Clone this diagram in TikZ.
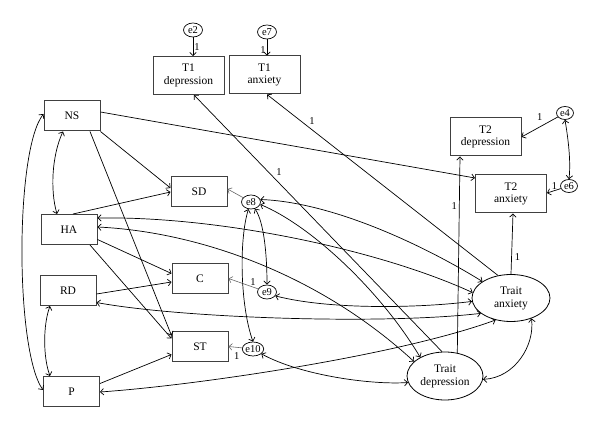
\documentclass[tikz,border=0pt]{standalone}
\usepackage{fontspec}
\setmainfont{Liberation Serif}
\usetikzlibrary{shapes.geometric,arrows.meta}
\begin{document}
\begin{tikzpicture}[x=1pt,y=-1pt,
  >={Straight Barb[length=3.2pt,width=6.5pt]},
  box/.style={draw=black!75, line width=1pt, minimum width=56pt, minimum height=30pt, inner sep=1pt, align=center, font=\fontsize{11.5}{12.5}\selectfont},
  wbox/.style={box, minimum width=71pt, minimum height=38pt},
  err/.style={draw, ellipse, line width=0.7pt, minimum width=19pt, minimum height=14pt, inner sep=0pt, font=\fontsize{10.5}{11}\selectfont},
  lat/.style={draw, ellipse, line width=0.8pt, minimum width=78pt, minimum height=47pt, inner sep=0pt, align=center, font=\fontsize{11.5}{13}\selectfont},
  reg/.style={->, line width=0.7pt},
  cov/.style={<->, line width=0.7pt},
  res/.style={->, line width=0.6pt, draw=black!60},
  lbl/.style={inner sep=0pt, font=\fontsize{10.5}{11}\selectfont, text=black}
]
\useasboundingbox (0,0) rectangle (600,427);

% nodes
\node[err] (e2) at (193,30) {e2};
\node[err] (e7) at (267,32) {e7};
\node[wbox] (T1d) at (188.5,75.5) {T1\\depression};
\node[wbox] (T1a) at (264.5,75) {T1\\anxiety};
\node[box] (NS) at (72,116) {NS};
\node[box] (SD) at (199,192) {SD};
\node[box] (HA) at (69,229.5) {HA};
\node[box] (C) at (200,278.5) {C};
\node[box] (RD) at (68,290.5) {RD};
\node[box] (ST) at (200,346.5) {ST};
\node[box] (P) at (71.5,391.5) {P};
\node[err] (e8) at (251,202) {e8};
\node[err] (e9) at (267,292) {e9};
\node[err] (e10) at (253,349) {e10};
\node[wbox] (T2d) at (485.5,137) {T2\\depression};
\node[wbox] (T2a) at (511,194) {T2\\anxiety};
\node[err, minimum width=17pt, minimum height=13pt] (e4) at (565,113) {e4};
\node[err, minimum width=17pt, minimum height=13pt] (e6) at (569,186) {e6};
\node[lat] (TA) at (511,298) {Trait\\anxiety};
\node[lat, minimum width=76pt, minimum height=48pt] (TD) at (445,376) {Trait\\depression};

% residual paths to T1 / T2
\draw[reg] (e2) -- (e2 |- T1d.north) node[lbl, pos=0.5, xshift=4pt] {1};
\draw[reg] (e7) -- (e7 |- T1a.north) node[lbl, pos=0.65, xshift=-4pt] {1};
\draw[reg] (e4) -- (T2d.east) node[lbl, pos=0.5, yshift=10pt] {1};
\draw[reg] (e6) -- ([yshift=1pt]T2a.east) node[lbl, pos=0.45, yshift=5pt] {1};
\draw[cov] (e4.south) .. controls (568,138) and (571,160) .. (e6.north);

% loadings
\draw[reg] (TD.97) -- ([xshift=5.5pt]T1d.south) node[lbl, pos=0.665, xshift=2pt, yshift=9pt] {1};
\draw[reg] (TA.120) -- ([xshift=2.5pt]T1a.south) node[lbl, pos=0.805, yshift=9pt] {1};
\draw[reg] (TD.62) -- ([xshift=-25.5pt]T2d.south) node[lbl, pos=0.75, xshift=-5pt] {1};
\draw[reg] (TA.north) -- ([xshift=2pt]T2a.south) node[lbl, pos=0.28, xshift=6pt] {1};

% temperament paths
\draw[reg] ([yshift=4pt]NS.east) -- ([yshift=16pt]T2a.west);
\draw[reg] (NS.south east) -- ([yshift=4pt]SD.west);
\draw[reg] ([xshift=4pt]HA.north) -- (SD.west);
\draw[reg] ([xshift=18pt]NS.south) -- ([yshift=11pt]ST.west);
\draw[reg] ([xshift=21pt]HA.south) -- ([yshift=8pt]ST.west);
\draw[reg] ([yshift=-10pt]HA.east) -- ([yshift=5pt]C.west);
\draw[reg] ([yshift=-3.5pt]RD.east) -- ([yshift=-3.5pt]C.west);
\draw[reg] ([yshift=8pt]P.east) -- ([yshift=-8pt]ST.west);

% residuals of character scales
\draw[res] (e8) -- ([yshift=3pt]SD.east);
\draw[res] (e9) -- (C.east) node[lbl, pos=0.17, yshift=5pt] {1};
\draw[res] (e10) -- (ST.east) node[lbl, pos=0.4, yshift=-9pt] {1};

% covariances among residuals
\draw[cov] (e8.-60) .. controls (264,222) and (267,255) .. (e9.north);
\draw[cov] (e8.-110) .. controls (239,240) and (240,305) .. (e10.north);

% covariances with traits
\draw[cov] (e8.15) .. controls (330,202) and (420,243) .. (TA.150);
\draw[cov] (e8.-15) .. controls (310,225) and (380,290) .. (TD.143);
\draw[cov] ([yshift=11.5pt]HA.east) .. controls (220,216) and (380,250) .. (TA.172);
\draw[cov] ([yshift=2.5pt]HA.east) .. controls (200,232) and (320,275) .. (TD.155);
\draw[cov] (e9.-25) .. controls (330,310) and (420,308) .. (TA.185);
\draw[cov] ([yshift=-12pt]RD.east) .. controls (180,318) and (380,325) .. (TA.207);
\draw[cov] ([yshift=-0.5pt]P.east) .. controls (200,385) and (400,355) .. (TA.235);
\draw[cov] (e10.-30) .. controls (300,375) and (370,385) .. (TD.190);
\draw[cov] (TA.-45) .. controls (535,345) and (515,378) .. (TD.-5);

% covariances among temperament scales
\draw[cov] ([xshift=-9pt]NS.south) .. controls (52,155) and (50,190) .. ([xshift=-12pt]HA.north);
\draw[cov] ([xshift=-18pt]RD.south) .. controls (43,325) and (43,357) .. ([xshift=-21.5pt]P.north);
\draw[cov] ([yshift=2pt]NS.west) .. controls (15,150) and (15,350) .. ([yshift=1.5pt]P.west);
\end{tikzpicture}
\end{document}
